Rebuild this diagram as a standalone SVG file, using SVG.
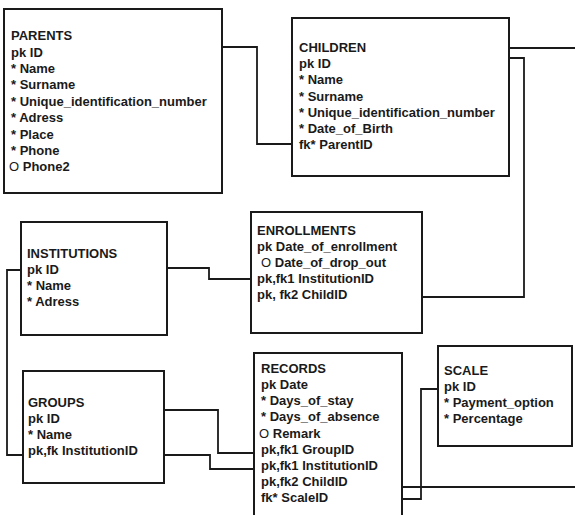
<svg xmlns="http://www.w3.org/2000/svg" width="575" height="515" viewBox="0 0 575 515">
<style>
.box{fill:#fff;stroke:#1a1a1a;stroke-width:2}
.t{font-family:"Liberation Sans",Arial,sans-serif;font-weight:bold;font-size:13px;fill:#1a1a1a}
.o{font-weight:normal}
.c{fill:none;stroke:#1a1a1a;stroke-width:1.8}
</style>
<rect width="575" height="515" fill="#fff"/>
<g id="connectors">
<polyline class="c" points="222,47 257,47 257,144 292,144"/>
<polyline class="c" points="509,48 575,48"/>
<polyline class="c" points="509,58 524,58 524,297 422,297"/>
<polyline class="c" points="167,268 209,268 209,279 251,279"/>
<polyline class="c" points="21,270 7,270 7,455 23,455"/>
<polyline class="c" points="164,410 218,410 218,453 254,453"/>
<polyline class="c" points="164,455 210,455 210,469 254,469"/>
<polyline class="c" points="438,389 421,389 421,499 402,499"/>
<polyline class="c" points="402,487 575,487"/>
</g>
<g id="parents">
<rect class="box" x="4" y="9" width="218" height="184"/>
<text class="t" x="11" y="40">PARENTS</text>
<text class="t" x="11" y="57">pk ID</text>
<text class="t" x="11" y="73">* Name</text>
<text class="t" x="11" y="89">* Surname</text>
<text class="t" x="11" y="106">* Unique_identification_number</text>
<text class="t" x="11" y="122">* Adress</text>
<text class="t" x="11" y="139">* Place</text>
<text class="t" x="11" y="155">* Phone</text>
<text class="t" x="9" y="171"><tspan class="o">O</tspan> Phone2</text>
</g>
<g id="children">
<rect class="box" x="292" y="18" width="217" height="158"/>
<text class="t" x="299" y="52">CHILDREN</text>
<text class="t" x="299" y="68">pk ID</text>
<text class="t" x="299" y="84">* Name</text>
<text class="t" x="299" y="101">* Surname</text>
<text class="t" x="299" y="117">* Unique_identification_number</text>
<text class="t" x="299" y="133">* Date_of_Birth</text>
<text class="t" x="299" y="149">fk* ParentID</text>
</g>
<g id="institutions">
<rect class="box" x="21" y="222" width="146" height="113"/>
<text class="t" x="27" y="258">INSTITUTIONS</text>
<text class="t" x="27" y="274">pk ID</text>
<text class="t" x="27" y="290">* Name</text>
<text class="t" x="27" y="306">* Adress</text>
</g>
<g id="enrollments">
<rect class="box" x="251" y="212" width="171" height="121"/>
<text class="t" x="257" y="235">ENROLLMENTS</text>
<text class="t" x="257" y="251">pk Date_of_enrollment</text>
<text class="t" x="261" y="267"><tspan class="o">O</tspan> Date_of_drop_out</text>
<text class="t" x="257" y="283">pk,fk1 InstitutionID</text>
<text class="t" x="257" y="299">pk, fk2 ChildID</text>
</g>
<g id="groups">
<rect class="box" x="23" y="371" width="141" height="112"/>
<text class="t" x="28" y="407">GROUPS</text>
<text class="t" x="28" y="423">pk ID</text>
<text class="t" x="28" y="439">* Name</text>
<text class="t" x="28" y="455">pk,fk InstitutionID</text>
</g>
<g id="records">
<rect class="box" x="254" y="353" width="148" height="170"/>
<text class="t" x="261" y="373">RECORDS</text>
<text class="t" x="261" y="389">pk Date</text>
<text class="t" x="261" y="405">* Days_of_stay</text>
<text class="t" x="261" y="421">* Days_of_absence</text>
<text class="t" x="259" y="438"><tspan class="o">O</tspan> Remark</text>
<text class="t" x="261" y="454">pk,fk1 GroupID</text>
<text class="t" x="261" y="470">pk,fk1 InstitutionID</text>
<text class="t" x="261" y="486">pk,fk2 ChildID</text>
<text class="t" x="261" y="502">fk* ScaleID</text>
</g>
<g id="scale">
<rect class="box" x="438" y="346" width="134" height="100"/>
<text class="t" x="444" y="375">SCALE</text>
<text class="t" x="444" y="391">pk ID</text>
<text class="t" x="444" y="407">* Payment_option</text>
<text class="t" x="444" y="423">* Percentage</text>
</g>
</svg>
